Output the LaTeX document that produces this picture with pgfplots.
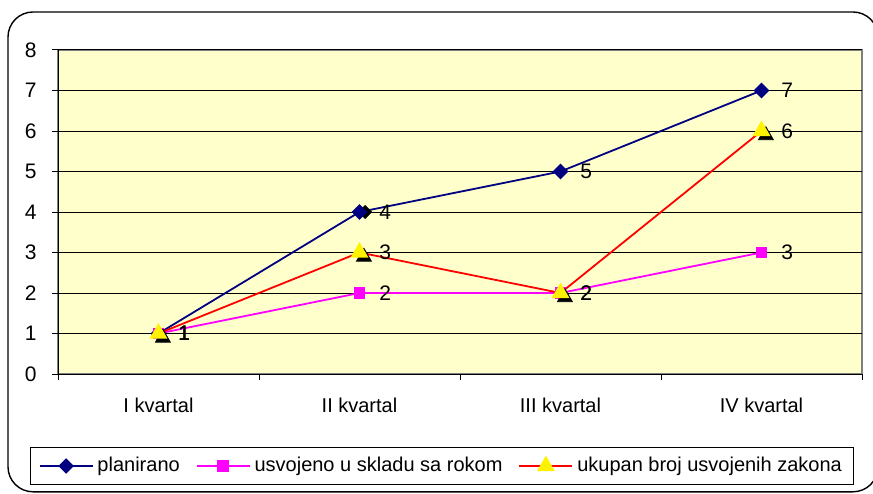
\documentclass[border=0pt]{standalone}
\usepackage{pgfplots}
\pgfplotsset{compat=1.18}
\usepackage{fontspec}
\setmainfont{Liberation Sans}
\definecolor{bgyellow}{HTML}{FFFFCC}
\definecolor{navy}{HTML}{000080}
\definecolor{mag}{HTML}{FF00FF}

\begin{document}
\begin{tikzpicture}
\useasboundingbox (0,0) rectangle (436.5pt,246.5pt);
\draw[line width=0.7pt, rounded corners=12.5pt] (4pt,0.6pt) rectangle (439pt,240.5pt);
\begin{axis}[
  at={(29pt,59.5pt)}, anchor=south west,
  width=402pt, height=162pt, scale only axis,
  xmin=-0.5, xmax=3.5, ymin=0, ymax=8,
  ytick={0,...,8},
  xtick={-0.5,0.5,1.5,2.5,3.5}, xticklabels={},
  extra x ticks={0,1,2,3},
  extra x tick labels={I kvartal, II kvartal, III kvartal, IV kvartal},
  extra x tick style={major tick length=0pt, tick label style={anchor=base, yshift=-19pt}},
  axis x line*=bottom, axis y line*=left,
  axis line style={black, line width=0.5pt, -},
  axis background/.style={fill=bgyellow, draw=gray, line width=0.8pt},
  ymajorgrids, major grid style={black, line width=0.5pt},
  tick align=outside, major tick length=3pt, tick style={black, line width=0.5pt},
  font=\fontsize{10}{12}\selectfont,
  /pgf/number format/assume math mode=true,
  yticklabel style={xshift=-4.2pt, font=\fontsize{10.5}{12}\selectfont},
  nodes near coords,
  every node near coord/.append style={anchor=west, xshift=6.2pt, black, font=\fontsize{10.5}{12}\selectfont},
  legend style={at={(0.478,-0.284)}, anchor=center, draw=black, line width=0.5pt, fill=white,
    font=\fontsize{10}{12}\selectfont, inner xsep=4pt, inner ysep=3pt,
    /tikz/every even column/.append style={column sep=6pt}},
  legend columns=3,
  legend image code/.code={\draw[mark repeat=2, mark phase=2, #1] plot coordinates {(0pt,0pt) (13.25pt,0pt) (26.5pt,0pt)};},
]
% planirano
\addplot[only marks, mark=square*, mark size=2.3pt, black, mark options={rotate=45, xshift=2pt, yshift=-2pt}, nodes near coords={}, forget plot] coordinates {(1,4)};
\addplot[navy, line width=0.9pt, mark=square*, mark size=2.3pt, mark options={rotate=45, fill=navy}] coordinates {(0,1) (1,4) (2,5) (3,7)};
\addlegendentry{planirano}
% usvojeno
\addplot[mag, line width=0.9pt, mark=square*, mark size=2.5pt, mark options={fill=mag}] coordinates {(0,1) (1,2) (2,2) (3,3)};
\addlegendentry{usvojeno u skladu sa rokom}
% ukupan
\addplot[only marks, mark=triangle*, mark size=4.3pt, black, mark options={xshift=2.2pt, yshift=-2.2pt}, nodes near coords={}, forget plot] coordinates {(0,1) (1,3) (2,2) (3,6)};
\addplot[red, line width=0.9pt, mark=triangle*, mark size=4.3pt, mark options={fill=yellow, draw=yellow}] coordinates {(0,1) (1,3) (2,2) (3,6)};
\addlegendentry{ukupan broj usvojenih zakona}
\end{axis}
\end{tikzpicture}
\end{document}
